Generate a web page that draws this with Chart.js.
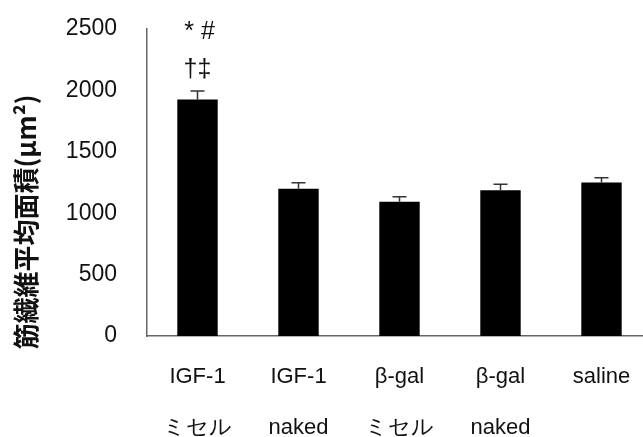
<!DOCTYPE html>
<html>
<head>
<meta charset="utf-8">
<script src="https://cdn.jsdelivr.net/npm/chart.js@4.4.0/dist/chart.umd.min.js"></script>
<style>
html,body{margin:0;padding:0;background:#fff;overflow:hidden;width:643px;height:437px;}
#wrap{width:660px;height:437px;}
</style>
</head>
<body>
<div id="wrap"><canvas id="c" width="660" height="437"></canvas></div>
<script>
const categories = [["IGF-1","ミセル"],["IGF-1","naked"],["β-gal","ミセル"],["β-gal","naked"],["saline",""]];
const meanArea = [1925, 1200, 1094, 1186, 1250];
const errArea = [70, 48, 40, 50, 38];
const yTicks = [0, 500, 1000, 1500, 2000, 2500];
const marksTop = ["* #", "", "", "", ""];
const marksBottom = ["†‡", "", "", "", ""];
const yTitle = "筋繊維平均面積(μm²)";

const FONT = "'Liberation Sans', Arial, sans-serif";

const errPlugin = {
  id: 'errbars',
  afterDatasetsDraw(chart) {
    const ctx = chart.ctx;
    const meta = chart.getDatasetMeta(0);
    const y = chart.scales.y;
    ctx.save();
    ctx.strokeStyle = '#333';
    ctx.lineWidth = 1.5;
    meta.data.forEach((bar, i) => {
      const yt = y.getPixelForValue(meanArea[i] + errArea[i]);
      const yb = y.getPixelForValue(meanArea[i]);
      ctx.beginPath();
      ctx.moveTo(bar.x, yb); ctx.lineTo(bar.x, yt);
      ctx.moveTo(bar.x - 7, yt); ctx.lineTo(bar.x + 7, yt);
      ctx.stroke();
    });
    ctx.fillStyle = '#111';
    ctx.textAlign = 'center';
    ctx.textBaseline = 'middle';
    ctx.font = "25px " + FONT;
    meta.data.forEach((bar, i) => {
      if (marksTop[i]) ctx.fillText(marksTop[i], bar.x + 2, 32);
      if (marksBottom[i]) ctx.fillText(marksBottom[i], bar.x, 70);
    });
    ctx.save();
    ctx.translate(26, 222);
    ctx.rotate(-Math.PI / 2);
    ctx.font = "bold 26px 'Noto Sans CJK JP', sans-serif";
    ctx.fillStyle = '#111';
    ctx.fillText(yTitle, 0, 0);
    ctx.restore();
    ctx.restore();
  }
};

new Chart(document.getElementById('c'), {
  type: 'bar',
  data: {
    labels: categories,
    datasets: [{
      data: meanArea,
      backgroundColor: '#000',
      borderColor: '#000',
      borderWidth: 0,
      barPercentage: 0.4,
      categoryPercentage: 1.0
    }]
  },
  options: {
    responsive: false,
    animation: false,
    events: [],
    layout: { padding: { top: 29, right: 8, left: 0, bottom: 0 } },
    plugins: { legend: { display: false }, tooltip: { enabled: false } },
    scales: {
      x: {
        grid: { display: false, drawTicks: false },
        border: { display: true, color: '#666', width: 1.5 },
        ticks: {
          color: '#111',
          font: { family: FONT, size: 22, lineHeight: 2.3 },
          padding: 16,
          maxRotation: 0,
          autoSkip: false
        },
        afterFit(s) { s.height = 101; s.paddingLeft = 0; s.paddingRight = 0; }
      },
      y: {
        min: 0, max: 2500,
        afterBuildTicks(s) { s.ticks = yTicks.map(v => ({ value: v })); },
        grid: { display: false, drawTicks: false },
        border: { display: true, color: '#666', width: 1.5 },
        ticks: {
          color: '#111',
          font: { family: FONT, size: 23 },
          padding: 30,
          callback: (v) => String(v)
        },
        afterFit(s) { s.width = 147; s.paddingTop = 0; s.paddingBottom = 0; }
      }
    }
  },
  plugins: [errPlugin]
});
</script>
</body>
</html>
